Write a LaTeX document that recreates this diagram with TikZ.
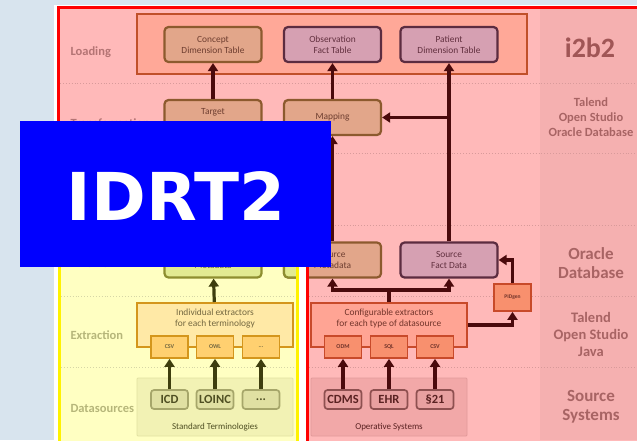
\documentclass[tikz,border=0pt]{standalone}
\usepackage{fontspec}
\setmainfont{Carlito}
\newfontfamily\idrtfont{DejaVu Sans}
\usetikzlibrary{arrows.meta}
\definecolor{bgblue}{HTML}{D8E4EE}
\definecolor{pinkF}{HTML}{FFB9B9}
\definecolor{pinkCol}{HTML}{F5B0B0}
\definecolor{yelF}{HTML}{FFFFC2}
\definecolor{loadF}{HTML}{FFA898}
\definecolor{loadD}{HTML}{C0502A}
\definecolor{tanF}{HTML}{E2A68A}
\definecolor{tanD}{HTML}{8C5A2E}
\definecolor{tanT}{HTML}{6E3E30}
\definecolor{mauF}{HTML}{D6A0B2}
\definecolor{mauD}{HTML}{5C2C40}
\definecolor{mauT}{HTML}{62303F}
\definecolor{grnF}{HTML}{E2EA92}
\definecolor{grnD}{HTML}{8E8E30}
\definecolor{grnT}{HTML}{6A6A35}
\definecolor{yexF}{HTML}{FFE9A6}
\definecolor{yexD}{HTML}{D4961C}
\definecolor{yexS}{HTML}{FFD070}
\definecolor{yexT}{HTML}{746840}
\definecolor{rexF}{HTML}{FFA494}
\definecolor{rexD}{HTML}{C84A2A}
\definecolor{rexS}{HTML}{F8906E}
\definecolor{rexT}{HTML}{72342A}
\definecolor{stdF}{HTML}{F2F2B4}
\definecolor{stdD}{HTML}{E2E2A2}
\definecolor{stdS}{HTML}{E0E0A2}
\definecolor{stdSD}{HTML}{A6A66A}
\definecolor{stdT}{HTML}{4E4E22}
\definecolor{opsF}{HTML}{F2A8A8}
\definecolor{opsD}{HTML}{E29A9A}
\definecolor{opsS}{HTML}{E8A0A0}
\definecolor{opsSD}{HTML}{8E5050}
\definecolor{opsT}{HTML}{5A2222}
\definecolor{arrM}{HTML}{4A0A0C}
\definecolor{arrO}{HTML}{3E3E0E}
\definecolor{labP}{HTML}{B47474}
\definecolor{labY}{HTML}{B6B67A}
\definecolor{labR}{HTML}{A86464}
\definecolor{labI}{HTML}{A05656}
\definecolor{dotP}{HTML}{D89A9A}
\definecolor{dotY}{HTML}{D6D6A6}
\begin{document}
\begin{tikzpicture}[x=1pt,y=-1pt,
  box/.style={rounded corners=4pt, line width=2.2pt, minimum width=97pt, minimum height=35pt, inner sep=0pt, align=center, font=\fontsize{9.4}{11}\selectfont},
  tanbox/.style={box, fill=tanF, draw=tanD, text=tanT},
  maubox/.style={box, fill=mauF, draw=mauD, text=mauT},
  grnbox/.style={box, fill=grnF, draw=grnD, text=grnT},
  subbox/.style={line width=1.7pt, minimum width=37pt, minimum height=22pt, inner sep=0pt, font=\fontsize{6}{7}\selectfont\bfseries},
  ysub/.style={subbox, fill=yexS, draw=yexD, text=yexT},
  rsub/.style={subbox, fill=rexS, draw=rexD, text=rexT},
  extbox/.style={line width=2pt, minimum width=156pt, minimum height=44pt, inner sep=0pt},
  srcbox/.style={rounded corners=3pt, line width=1.7pt, minimum width=37pt, minimum height=19pt, inner sep=0pt, font=\fontsize{12.5}{14}\selectfont\bfseries},
  grp/.style={line width=0.8pt, minimum width=156pt, minimum height=58pt, inner sep=0pt, rounded corners=1pt},
  arr/.style={line width=3.2pt, -{Triangle[width=10pt,length=8pt]}},
  rowlab/.style={anchor=base west, font=\fontsize{12.5}{14}\selectfont\bfseries},
  toollab/.style={align=center, text=labR, font=\bfseries},
  smalltxt/.style={align=center, font=\fontsize{9.4}{11}\selectfont}
]
\useasboundingbox (0,0) rectangle (637,440);
% backgrounds
\fill[bgblue] (0,0) rectangle (637,440);
\fill[white] (54,5) rectangle (637,440);
\fill[pinkF] (58.5,7.5) -- (660,7.5) -- (660,460) -- (307,460) -- (307,157) -- (58.5,157) -- cycle;
\fill[pinkCol] (540,9) rectangle (637,440);
\fill[yelF] (59.5,159) rectangle (297.5,460);
% row dividers
\foreach \yy in {83,153} \draw[dotP, dotted, line width=0.9pt] (60,\yy) -- (637,\yy);
\foreach \yy in {225,296,367} {
  \draw[dotY, dotted, line width=0.9pt] (61,\yy) -- (297,\yy);
  \draw[dotP, dotted, line width=0.9pt] (309,\yy) -- (637,\yy);
}
% row labels
\node[rowlab, text=labP] (lload) at (67,55) {Loading};
\node[rowlab, text=labP] (ltrans) at (67,127) {Transformation};
\node[rowlab, text=labY] (lstag) at (67,265) {Staging};
\node[rowlab, text=labY] (lextr) at (67,339) {Extraction};
\node[rowlab, text=labY] (ldata) at (67,412) {Datasources};
% tool labels
\node[toollab, text=labI, font=\fontsize{28}{30}\selectfont\bfseries] (ti2b2) at (590,48) {i2b2};
\node[toollab, font=\fontsize{12.5}{15}\selectfont\bfseries] (ttal1) at (591,117) {Talend\\Open Studio\\Oracle Database};
\node[toollab, font=\fontsize{17}{19.5}\selectfont\bfseries] (torac) at (591,263) {Oracle\\Database};
\node[toollab, font=\fontsize{14.5}{17}\selectfont\bfseries] (ttal2) at (591,334) {Talend\\Open Studio\\Java};
\node[toollab, font=\fontsize{17}{19.5}\selectfont\bfseries] (tsrc) at (591,407) {Source\\Systems};
% loading container
\node[draw=loadD, fill=loadF, line width=1.8pt, minimum width=390pt, minimum height=60pt, inner sep=0pt] (loadc) at (332,44) {};
\node[tanbox] (concept) at (213,44.5) {Concept\\Dimension Table};
\node[maubox] (obs) at (332.5,44.5) {Observation\\Fact Table};
\node[maubox] (patient) at (449,44.5) {Patient\\Dimension Table};
% transformation
\node[tanbox] (target) at (213,117.5) {Target\\\phantom{Metadata}};
\node[tanbox] (mapping) at (332.5,117.5) {Mapping};
% staging
\node[grnbox] (termmeta) at (213,260) {\phantom{Metadata}\\Metadata};
\node[tanbox] (srcmeta) at (332.5,260) {Source\\Metadata};
\begin{scope}
  \clip (280,235) rectangle (300,285);
  \node[grnbox] at (332.5,260) {};
\end{scope}
\node[maubox] (srcfact) at (449,260) {Source\\Fact Data};
\node[rsub, minimum height=27pt, font=\fontsize{5.5}{6}\selectfont\bfseries] (pidgen) at (512.5,297.5) {PIDgen};
% extraction
\node[extbox, fill=yexF, draw=yexD] (indext) at (215,325) {};
\node[smalltxt, text=yexT] (indtxt) at (215,318.5) {Individual extractors\\for each terminology};
\node[ysub] (csv1) at (169.5,347) {CSV};
\node[ysub] (owl) at (215,347) {OWL};
\node[ysub] (ydots) at (261,347) {...};
\node[extbox, fill=rexF, draw=rexD] (confext) at (389,325) {};
\node[smalltxt, text=rexT] (conftxt) at (389,318.5) {Configurable extractors\\for each type of datasource};
\node[rsub] (odm) at (343,347) {ODM};
\node[rsub] (sql) at (389,347) {SQL};
\node[rsub] (csv2) at (435,347) {CSV};
% datasources
\node[grp, fill=stdF, draw=stdD] (stdgrp) at (215,407) {};
\node[smalltxt, text=stdT, font=\fontsize{9}{10}\selectfont] (stdtxt) at (215,427) {Standard Terminologies};
\node[srcbox, fill=stdS, draw=stdSD, text=stdT] (icd) at (169.5,399.5) {ICD};
\node[srcbox, fill=stdS, draw=stdSD, text=stdT] (loinc) at (215,399.5) {LOINC};
\node[srcbox, fill=stdS, draw=stdSD, text=stdT] (sdots) at (261,399.5) {...};
\node[grp, fill=opsF, draw=opsD] (opsgrp) at (389,407) {};
\node[smalltxt, text=opsT, font=\fontsize{9}{10}\selectfont] (opstxt) at (389,427) {Operative Systems};
\node[srcbox, fill=opsS, draw=opsSD, text=opsT] (cdms) at (343,399.5) {CDMS};
\node[srcbox, fill=opsS, draw=opsSD, text=opsT] (ehr) at (389,399.5) {EHR};
\node[srcbox, fill=opsS, draw=opsSD, text=opsT] (p21) at (435,399.5) {§21};
% arrows (olive)
\draw[arr, arrO] (icd) -- (csv1);
\draw[arr, arrO] (loinc) -- (owl);
\draw[arr, arrO] (sdots) -- (ydots);
\draw[arr, arrO] (indext) -- (termmeta);
% arrows (maroon)
\draw[arr, arrM] (cdms) -- (odm);
\draw[arr, arrM] (ehr) -- (sql);
\draw[arr, arrM] (p21) -- (csv2);
\coordinate (jn) at (389,290);
\draw[line width=3.2pt, arrM] (confext.north) -- (jn);
\draw[arr, arrM] (jn) -| (srcmeta.south);
\draw[arr, arrM] (jn) -| (srcfact.south);
\draw[arr, arrM] (confext.east) -| (pidgen.south);
\draw[arr, arrM] (pidgen.north) |- (srcfact.east);
\draw[arr, arrM] (termmeta) -- (target);
\draw[arr, arrM] (srcmeta) -- (mapping);
\draw[arr, arrM] (srcfact.north) -- (patient.south);
\coordinate (br) at (449,117.5);
\draw[arr, arrM] (br) -- (mapping.east);
\draw[arr, arrM] (target) -- (concept);
\draw[arr, arrM] (mapping) -- (obs);
% gap and borders
\fill[white] (299,157) rectangle (305.5,440);
\draw[red, line width=3pt] (58.5,7.5) -- (660,7.5) -- (660,460) -- (307,460) -- (307,157) -- (58.5,157) -- cycle;
\draw[yellow, line width=3pt] (59.5,159) rectangle (297.5,460);
% overlay
\fill[blue] (20,121) rectangle (331,267);
\node[text=white, inner sep=0pt, font=\idrtfont\bfseries\fontsize{66}{66}\selectfont] (idrt) at (176,196.5) {IDRT2};
\end{tikzpicture}
\end{document}
